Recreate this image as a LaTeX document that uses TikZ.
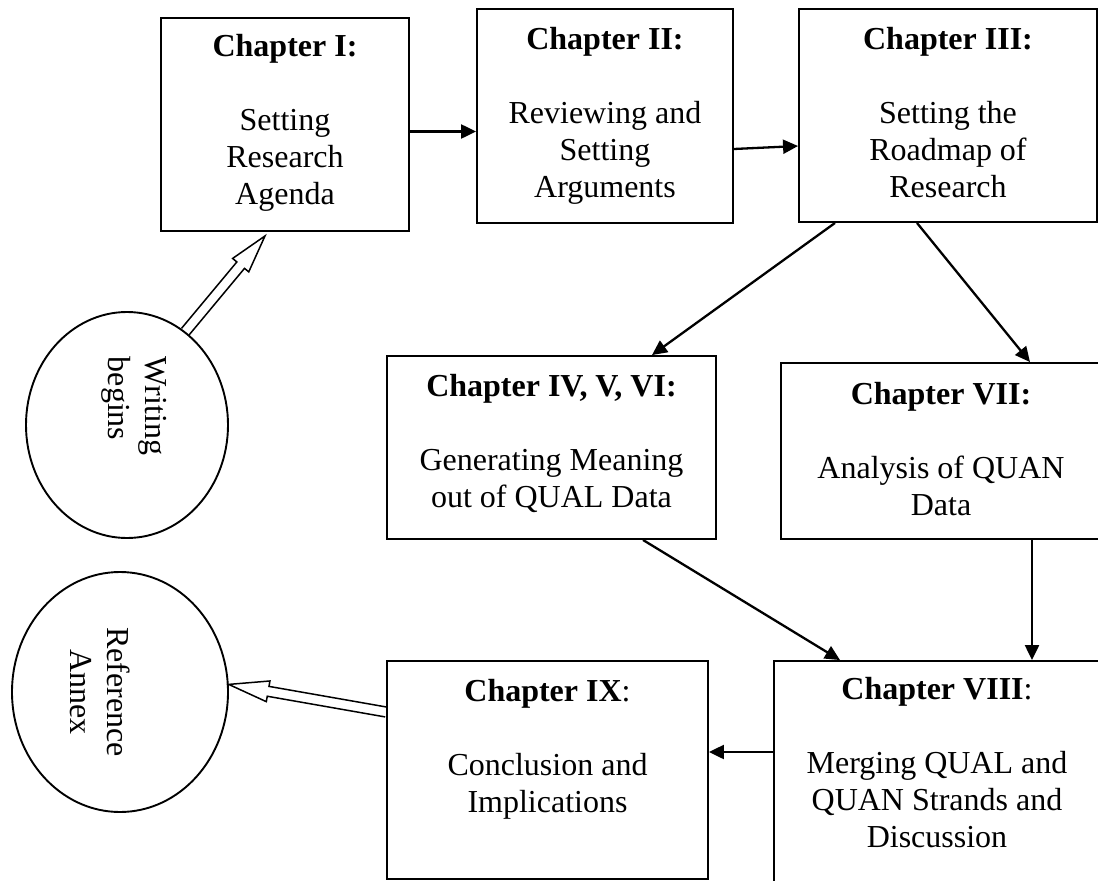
\documentclass[tikz,border=0pt]{standalone}
\usepackage{fontspec}
\setmainfont{Liberation Serif}
\usetikzlibrary{arrows.meta,calc,shapes.geometric}
\begin{document}
\begin{tikzpicture}[x=1pt,y=-1pt,
  box/.style={draw, line width=1.9pt, rectangle, inner sep=0pt},
  txt/.style={inner sep=0pt, align=center, font=\fontsize{32}{37}\selectfont, anchor=north},
  arr/.style={line width=2.3pt, -{Triangle[length=15pt,width=14pt]}},
  hol/.style={line width=1.5pt, line join=miter},
  oval/.style={draw, ellipse, line width=1.9pt, inner sep=0pt}]
\useasboundingbox (0,0) rectangle (1098,881);
\clip (0,0) rectangle (1098,881);

% boxes
\node[box, minimum width=248pt, minimum height=213pt] (c1) at (285,124.5) {};
\node[box, minimum width=256pt, minimum height=214pt] (c2) at (605,116) {};
\node[box, minimum width=298pt, minimum height=213pt] (c3) at (948,115.5) {};
\node[box, minimum width=329pt, minimum height=183pt] (c4) at (551.5,447.5) {};
\node[box, minimum width=320pt, minimum height=176pt] (c7) at (941,451) {};
\node[box, minimum width=326pt, minimum height=234pt] (c8) at (937,778) {};
\node[box, minimum width=321pt, minimum height=218pt] (c9) at (547.5,770) {};

% texts
\node[txt] (t1) at (285,34) {\textbf{Chapter I:}\\[37pt]Setting\\Research\\Agenda};
\node[txt] (t2) at (605,27) {\textbf{Chapter II:}\\[37pt]Reviewing and\\Setting\\Arguments};
\node[txt] (t3) at (948,27) {\textbf{Chapter III:}\\[37pt]Setting the\\Roadmap of\\Research};
\node[txt] (t4) at (551.5,374) {\textbf{Chapter IV, V, VI:}\\[37pt]Generating Meaning\\out of QUAL Data};
\node[txt] (t7) at (941,382) {\textbf{Chapter VII:}\\[37pt]Analysis of QUAN\\Data};
\node[txt] (t8) at (937,677) {\textbf{Chapter VIII}:\\[37pt]Merging QUAL and\\QUAN Strands and\\Discussion};
\node[txt] (t9) at (547.5,679) {\textbf{Chapter IX}:\\[37pt]Conclusion and\\Implications};

% ovals
\node[oval, minimum width=202pt, minimum height=226pt] (wb) at (127,425) {};
\node[oval, minimum width=216pt, minimum height=240pt] (ra) at (120,692) {};
\node[txt, anchor=center, rotate=-90, align=left] (wbt) at (134,406) {Writing\\begins};
\node[txt, anchor=center, rotate=-90] (rat) at (100,692) {Reference\\Annex};

% thin arrows
\draw[arr] ([yshift=-7pt]c1.east) -- ([yshift=-15.5pt]c2.west);
\draw[arr] ([yshift=-33pt]c2.east) -- ([yshift=-30.5pt]c3.west);
\draw[arr] ([xshift=-113pt]c3.south) -- ([xshift=100.5pt]c4.north);
\draw[arr] ([xshift=-31pt]c3.south) -- ([xshift=89pt]c7.north);
\draw[arr] ([xshift=91.5pt]c4.south) -- ([xshift=-97pt]c8.north);
\coordinate (m78) at ([xshift=91pt]c7.south);
\draw[arr] (m78) -- (m78 |- c8.north);
\coordinate (m89) at ([yshift=26pt]c8.west);
\draw[arr] (m89) -- (m89 -| c9.east);

% hollow arrows
\coordinate (wA) at (wb.58);
\coordinate (wB) at ([xshift=-20pt,yshift=-4pt]c1.south);
\coordinate (wH) at ($(wB)!38pt!(wA)$);
\draw[hol] ($(wA)!5pt!90:(wB)$) -- ($(wH)!5pt!-90:(wA)$) -- ($(wH)!10.5pt!-90:(wA)$) -- (wB)
  -- ($(wH)!10.5pt!90:(wA)$) -- ($(wH)!5pt!90:(wA)$) -- ($(wA)!5pt!-90:(wB)$);

\coordinate (rA) at ([yshift=58pt]c9.west);
\coordinate (rB) at (ra.4);
\coordinate (rH) at ($(rB)!40pt!(rA)$);
\draw[hol] ($(rA)!5pt!90:(rB)$) -- ($(rH)!5pt!-90:(rA)$) -- ($(rH)!10.5pt!-90:(rA)$) -- (rB)
  -- ($(rH)!10.5pt!90:(rA)$) -- ($(rH)!5pt!90:(rA)$) -- ($(rA)!5pt!-90:(rB)$);
\end{tikzpicture}
\end{document}
